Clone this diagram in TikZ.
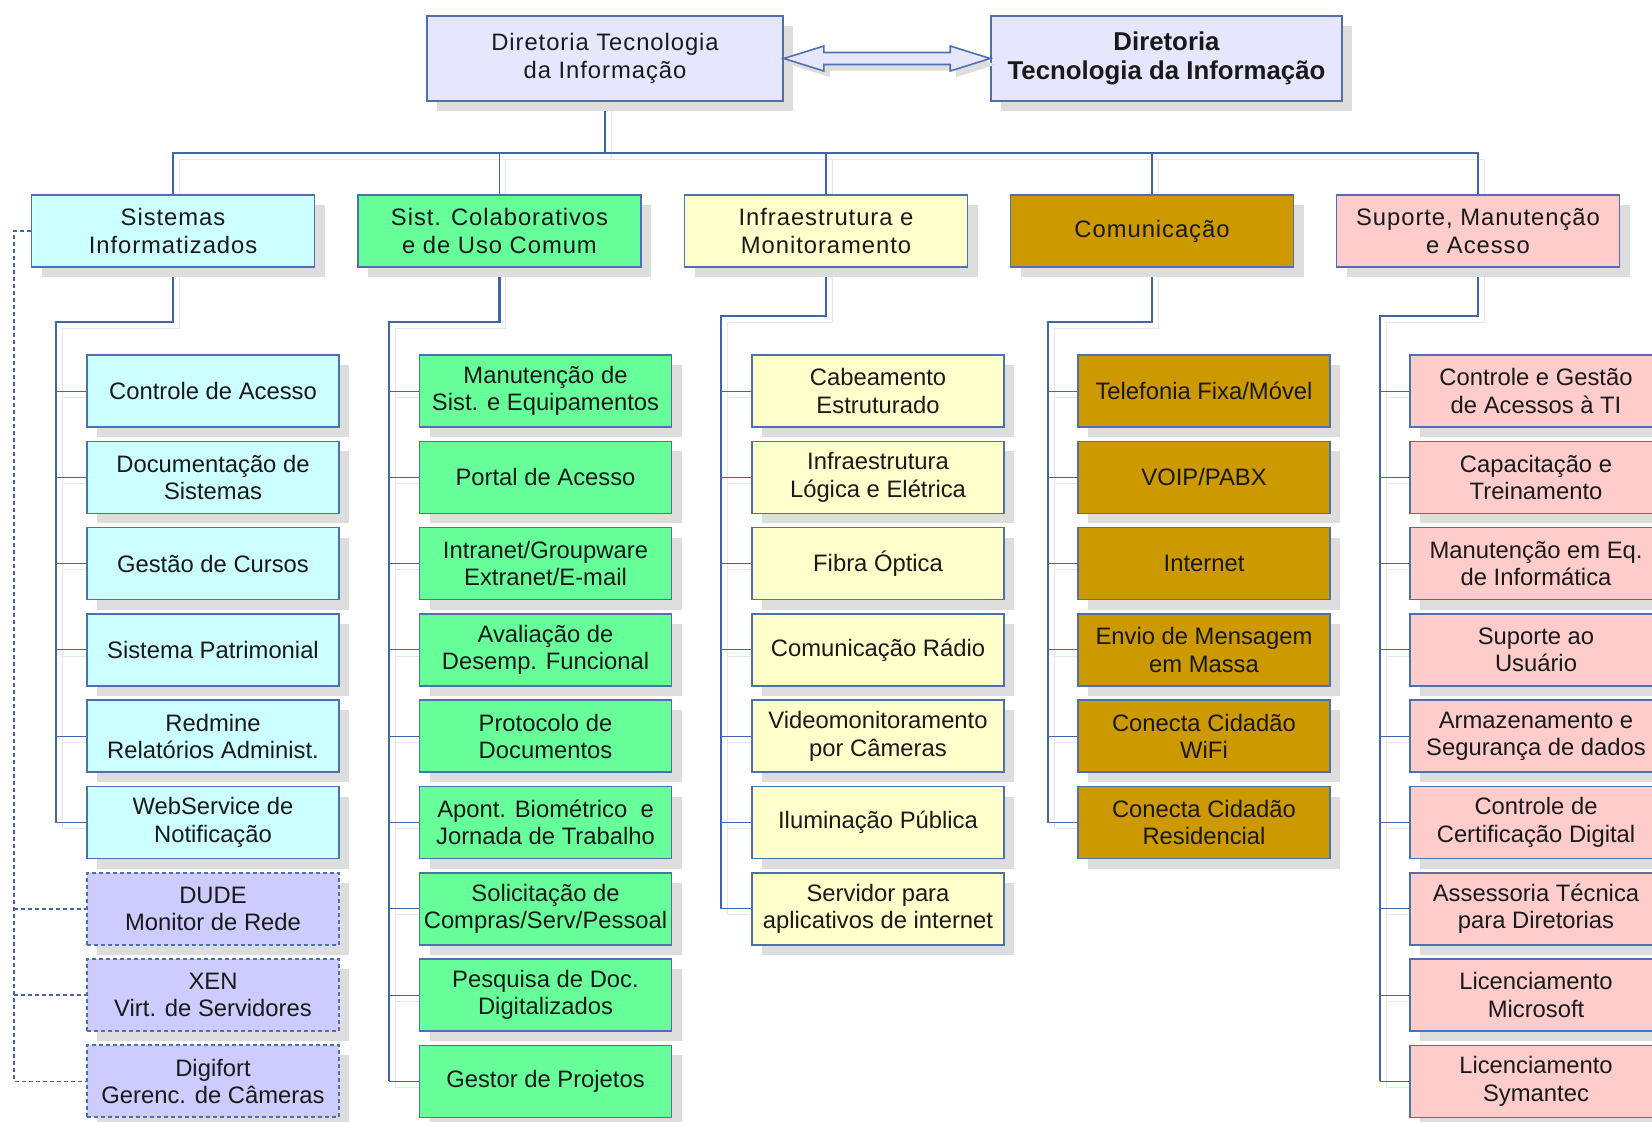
\documentclass[tikz,border=0pt]{standalone}
\usepackage{fontspec}
\setmainfont{Liberation Sans}
\newfontfamily\widefont[LetterSpace=4]{Liberation Sans}
\usepackage{tikz}
\usetikzlibrary{calc,shadows,backgrounds}
\definecolor{boxblue}{RGB}{79,112,176}
\definecolor{lineblue}{RGB}{66,100,168}
\definecolor{dirfill}{RGB}{230,230,255}
\definecolor{sisfill}{RGB}{204,255,255}
\definecolor{colfill}{RGB}{102,255,153}
\definecolor{inffill}{RGB}{255,255,204}
\definecolor{comfill}{RGB}{204,153,0}
\definecolor{supfill}{RGB}{255,204,204}
\definecolor{extfill}{RGB}{204,204,255}
\definecolor{shadowgray}{RGB}{221,221,221}
\definecolor{ink}{RGB}{25,25,25}
\tikzset{
  unit/.style={draw=boxblue, line width=0.8pt, minimum width=126pt, minimum height=36pt,
               inner sep=1pt, align=center, text=ink, font=\fontsize{11.9}{13.7}\selectfont,
               drop shadow={shadow xshift=5pt, shadow yshift=-5pt, fill=shadowgray, opacity=1}},
  extunit/.style={unit, fill=extfill, line width=1pt, dash pattern=on 2pt off 1.5pt},
  area/.style={unit, minimum width=141.5pt, font=\widefont\fontsize{11.9}{14.2}\selectfont},
  head/.style={unit, fill=dirfill, minimum height=42.5pt, font=\widefont\fontsize{11.9}{14.2}\selectfont},
  trunk/.style={draw=lineblue, line width=1.2pt,
                preaction={draw=shadowgray!70, transform canvas={shift={(3pt,-3pt)}}}},
  bus/.style={trunk, line width=0.8pt},
  stub/.style={trunk, line width=0.5pt},
  dashlink/.style={draw=lineblue, line width=0.8pt, dash pattern=on 2pt off 1.5pt},
  biarrow/.style={draw=boxblue, line width=0.8pt, fill=dirfill,
                  drop shadow={shadow xshift=3pt, shadow yshift=-3pt, fill=shadowgray, opacity=1}}
}

\begin{document}
\begin{tikzpicture}[x=0.5pt, y=-0.5pt]
  \useasboundingbox (0,0) rectangle (1652,1121);
  \clip (0,0) rectangle (1652,1121);
  % board
  \node[head, minimum width=178pt] (dti) at (605,58.5) {Diretoria Tecnologia\\da Informação};
  \node[head, minimum width=175.5pt, font=\bfseries\fontsize{12.9}{14.2}\selectfont] (dtib) at (1166.5,58.5) {Diretoria\\Tecnologia da Informação};
  \draw[biarrow] (dti.east) -- ++(40,-12.5) -- ++(0,6.5) -- ($(dtib.west)+(-40,-6)$) -- ++(0,-6.5)
    -- (dtib.west) -- ++(-40,12.5) -- ++(0,-6.5) -- ($(dti.east)+(40,6)$) -- ++(0,6.5) -- cycle;
  % areas
  \node[area, fill=sisfill] (sis) at (173,231) {Sistemas\\Informatizados};
  \node[area, fill=colfill] (col) at (499.5,231) {Sist. Colaborativos\\e de Uso Comum};
  \node[area, fill=inffill] (inf) at (826,231) {Infraestrutura e\\Monitoramento};
  \node[area, fill=comfill] (com) at (1152,231) {Comunicação};
  \node[area, fill=supfill] (sup) at (1478,231) {Suporte, Manutenção\\e Acesso};
  % units
  \foreach \unitname [count=\i] in {{Controle de Acesso}, {Documentação de\\Sistemas}, {Gestão de Cursos},
      {Sistema Patrimonial}, {Redmine\\Relatórios Administ.}, {WebService de\\Notificação}}
    \node[unit, fill=sisfill] (sis\i) at (213,{391+86.3*(\i-1)}) {\unitname};
  \foreach \unitname [count=\i from 7] in {{DUDE\\Monitor de Rede}, {XEN\\Virt. de Servidores},
      {Digifort\\Gerenc. de Câmeras}}
    \node[extunit] (sis\i) at (213,{391+86.3*(\i-1)}) {\unitname};
  \foreach \unitname [count=\i] in {{Manutenção de\\Sist. e Equipamentos}, {Portal de Acesso},
      {Intranet/Groupware\\Extranet/E-mail}, {Avaliação de\\Desemp. Funcional}, {Protocolo de\\Documentos},
      {Apont. Biométrico~ e\\Jornada de Trabalho}, {Solicitação de\\Compras/Serv/Pessoal},
      {Pesquisa de Doc.\\Digitalizados}, {Gestor de Projetos}}
    \node[unit, fill=colfill] (col\i) at (545.5,{391+86.3*(\i-1)}) {\unitname};
  \foreach \unitname [count=\i] in {{Cabeamento\\Estruturado}, {Infraestrutura\\Lógica e Elétrica},
      {Fibra Óptica}, {Comunicação Rádio}, {Videomonitoramento\\por Câmeras}, {Iluminação Pública},
      {Servidor para\\aplicativos de internet}}
    \node[unit, fill=inffill] (inf\i) at (878,{391+86.3*(\i-1)}) {\unitname};
  \foreach \unitname [count=\i] in {{Telefonia Fixa/Móvel}, {VOIP/PABX}, {Internet},
      {Envio de Mensagem\\em Massa}, {Conecta Cidadão\\WiFi}, {Conecta Cidadão\\Residencial}}
    \node[unit, fill=comfill] (com\i) at (1204,{391+86.3*(\i-1)}) {\unitname};
  \foreach \unitname [count=\i] in {{Controle e Gestão\\de Acessos à TI}, {Capacitação e\\Treinamento},
      {Manutenção em Eq.\\de Informática}, {Suporte ao\\Usuário}, {Armazenamento e\\Segurança de dados},
      {Controle de\\Certificação Digital}, {Assessoria Técnica\\para Diretorias},
      {Licenciamento\\Microsoft}, {Licenciamento\\Symantec}}
    \node[unit, fill=supfill] (sup\i) at (1536,{391+86.3*(\i-1)}) {\unitname};
  % links
  \begin{scope}[on background layer]
    \fill[white] (0,0) rectangle (1652,1121);
    \coordinate (bus) at (605,153);
    \draw[trunk] (dti.south) -- (bus);
    \draw[bus] (sis.north) |- (bus) -| (sup.north);
    \foreach \a in {col,inf,com}
      \draw[bus] (\a.north) -- (\a.north |- bus);
    \foreach \a/\x/\y/\n in {sis/56/322/6, col/389/322/9, inf/721/316/7, com/1048/322/6, sup/1380/316/9} {
      \coordinate (\a0) at (\x,\y);
      \draw[trunk] (\a.south) |- (\a0) -- (\a0 |- \a\n.west);
      \foreach \i in {1,...,\n}
        \draw[stub] (\a0 |- \a\i.west) -- (\a\i.west);
    }
    \coordinate (sisd) at (14,231);
    \draw[dashlink] (sis.west) -- (sisd) |- (sis9.west);
    \foreach \i in {7,8}
      \draw[dashlink] (sisd |- sis\i.west) -- (sis\i.west);
  \end{scope}
\end{tikzpicture}
\end{document}
